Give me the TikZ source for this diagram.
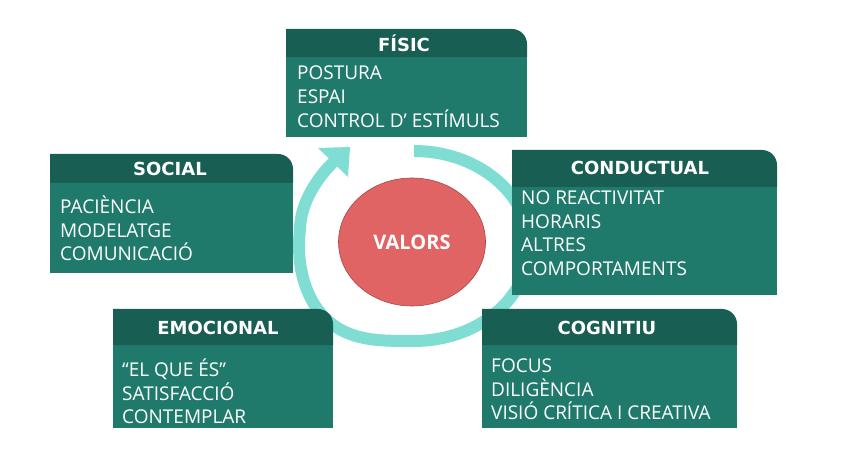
\documentclass[tikz,border=0pt]{standalone}
\usepackage{fontspec}
\setmainfont{Open Sans}
\newfontfamily\titlefont{DejaVu Sans}
\usetikzlibrary{shapes.geometric}
\definecolor{headteal}{RGB}{24,94,82}
\definecolor{bodyteal}{RGB}{31,122,108}
\definecolor{ringcyan}{RGB}{128,221,211}
\definecolor{valorsred}{RGB}{224,100,100}
\definecolor{valorsline}{RGB}{170,70,70}
\begin{document}
\begin{tikzpicture}[
		x=1pt, y=1pt
		,head/.style={fill=headteal}
		,body/.style={fill=bodyteal}
		,title/.style={text=white, inner sep=0pt, font=\titlefont\bfseries\fontsize{18}{20}\selectfont}
		,list/.style={text=white, align=left, anchor=north west, inner sep=0pt, font=\fontsize{19}{23.7}\selectfont, execute at begin node={\vphantom{É}}}
		,ring/.style={draw=ringcyan, line width=12pt}
	]
	\useasboundingbox (0,0) rectangle (842,463);
	% ring with its head at the top left
	\draw[ring] plot[domain=90:-90, samples=40, smooth] ({414+115*cos(\x)}, {217+95*sin(\x)})
		-- plot[domain=-91:-190, samples=40, smooth] ({414-115*abs(cos(\x))^0.6}, {217+95*sin(\x)})
		.. controls (300,260) and (318,286) .. (333,300.5);
	\fill[ringcyan] (318,315) -- (350,316) -- (348,286) -- cycle;
	% FISIC
	\fill[body] (286,326) rectangle (527,406);
	\fill[head] (286,406) |- (512,434) arc[start angle=90, end angle=0, radius=15pt] -- (527,406) -- cycle;
	\node[title] (fisic) at (404,420) {FÍSIC};
	\node[list] (fisic list) at (297,397.2) {POSTURA\\ESPAI\\CONTROL D’ ESTÍMULS};
	% SOCIAL
	\fill[body] (50,190) rectangle (293,280);
	\fill[head] (50,280) |- (278,309) arc[start angle=90, end angle=0, radius=15pt] -- (293,280) -- cycle;
	\node[title] (social) at (170,294) {SOCIAL};
	\node[list] (social list) at (60,267.5) {PACIÈNCIA\\MODELATGE\\COMUNICACIÓ};
	% CONDUCTUAL
	\fill[body] (512,168) rectangle (777,276);
	\fill[head] (512,276) |- (762,313) arc[start angle=90, end angle=0, radius=15pt] -- (777,276) -- cycle;
	\node[title] (conductual) at (640,295) {CONDUCTUAL};
	\node[list] (conductual list) at (521,272.5) {NO REACTIVITAT\\HORARIS\\ALTRES\\COMPORTAMENTS};
	% EMOCIONAL
	\fill[body] (113,35) rectangle (333,118);
	\fill[head] (113,118) |- (318,154) arc[start angle=90, end angle=0, radius=15pt] -- (333,118) -- cycle;
	\node[title] (emocional) at (218,135) {EMOCIONAL};
	\node[list] (emocional list) at (122,104.5) {“EL QUE ÉS”\\SATISFACCIÓ\\CONTEMPLAR};
	% COGNITIU
	\fill[body] (482,35) rectangle (737,118);
	\fill[head] (482,118) |- (722,154) arc[start angle=90, end angle=0, radius=15pt] -- (737,118) -- cycle;
	\node[title] (cognitiu) at (607,135) {COGNITIU};
	\node[list] (cognitiu list) at (491,104.5) {FOCUS\\DILIGÈNCIA\\VISIÓ CRÍTICA I CREATIVA};
	% centre
	\node[ellipse, fill=valorsred, draw=valorsline, line width=0.6pt, minimum width=147pt, minimum height=128pt, text=white, font=\bfseries\fontsize{20}{22}\selectfont] (valors) at (412,221) {VALORS};
\end{tikzpicture}
\end{document}
